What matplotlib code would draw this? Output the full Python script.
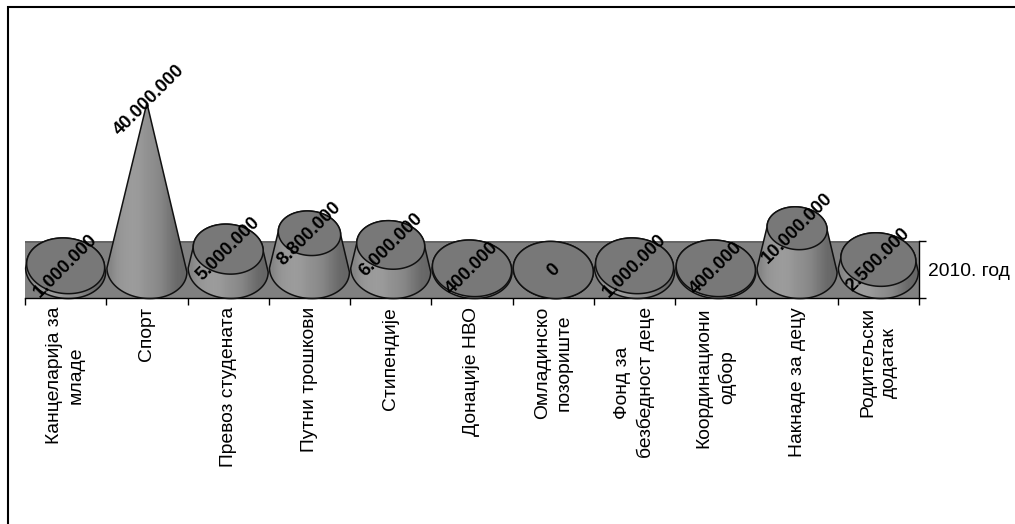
import matplotlib
matplotlib.use("Agg")
import matplotlib.pyplot as plt
import numpy as np
from matplotlib.lines import Line2D
from matplotlib.patches import Polygon, Rectangle

plt.rcParams['font.family'] = ['Liberation Sans', 'DejaVu Sans']

categories = ["Канцеларија за\nмладе", "Спорт", "Превоз студената", "Путни трошкови",
              "Стипендије", "Донације НВО", "Омладинско\nпозориште",
              "Фонд за\nбезбедност деце", "Координациони\nодбор", "Накнаде за децу",
              "Родитељски\nдодатак"]
values = [1000000, 40000000, 5000000, 8800000, 6000000, 400000, 0, 1000000, 400000,
          10000000, 2500000]
value_labels = ["1.000.000", "40.000.000", "5.000.000", "8.800.000", "6.000.000", "400.000",
                "0", "1.000.000", "400.000", "10.000.000", "2.500.000"]
series_name = "2010. год"
VMAX = 40000000

W, H = 1015, 524
fig = plt.figure(figsize=(W/100, H/100), dpi=100, facecolor='white')
L, R, T, B = 25, 919, 241, 298
ax = fig.add_axes([L/W, 1-B/H, (R-L)/W, (B-T)/H])
PX = VMAX/167.0           # value units per pixel
Y0, Y1 = -28*PX, 29*PX
ax.set_facecolor('#808080')

grad = np.array([[0.52, 0.58, 0.60, 0.61, 0.60, 0.57, 0.55, 0.52, 0.47, 0.42, 0.40]])
RX, RY, SKEW = 0.492, 28.5*PX, 0.07


def ring(cx, cy, f, t):
    return np.c_[cx + RX*f*np.cos(t), cy + RY*f*(np.sin(t) - SKEW*np.cos(t))]


for i, v in enumerate(values):
    cx = i + 0.5
    f = 1 - v/VMAX
    base = ring(cx, 0, 1, np.linspace(np.pi, 2*np.pi, 60))
    top = ring(cx, v, f, np.linspace(0, np.pi, 60))
    pts = np.r_[base, top]
    z = 2 + i*0.01
    poly = Polygon(pts, closed=True, fc='none', ec='none', zorder=z, clip_on=False)
    ax.add_patch(poly)
    im = ax.imshow(grad, extent=(cx-RX, cx+RX, -RY, v+RY), aspect='auto', cmap='gray',
                   vmin=0, vmax=1, interpolation='bilinear', zorder=z)
    im.set_clip_box(fig.bbox)
    im.set_clip_path(poly)
    ax.add_patch(Polygon(pts, closed=True, fc='none', ec='#111111', lw=1.1,
                         zorder=z+0.5, clip_on=False))
    if f > 0:
        ax.add_patch(Polygon(ring(cx, v, f, np.linspace(0, 2*np.pi, 120)), closed=True,
                             fc='#787878', ec='#111111', lw=1.1, zorder=z+0.6, clip_on=False))
    dx = 0.03 if v == VMAX else 0.0
    dy = 3*PX if v == VMAX else 0.0
    ax.text(cx + dx, v + dy, value_labels[i], rotation=45, ha='center', va='center',
            rotation_mode='anchor', fontsize=13.3, fontweight='bold', color='black', zorder=5)

ax.set_xlim(0, len(values))
ax.set_ylim(Y0, Y1)
ax.add_patch(Rectangle((0, Y1-2*PX), len(values), 2*PX, fc='#666666', ec='none', zorder=1))

for s in ['top', 'left']:
    ax.spines[s].set_visible(False)
for s in ['bottom', 'right']:
    ax.spines[s].set_color('black')
    ax.spines[s].set_linewidth(1)

ax.set_xticks(np.arange(len(values)+1), minor=True)
ax.set_xticks(np.arange(len(values))+0.5)
ax.set_xticklabels(categories, rotation=90, fontsize=13.9, linespacing=1.38, ha='center', va='top')
ax.tick_params(axis='x', which='minor', length=5, width=1, color='black')
ax.tick_params(axis='x', which='major', length=0, pad=6.5)

ax.yaxis.tick_right()
ax.set_yticks([0])
ax.set_yticklabels([series_name], fontsize=13.9)
ax.set_yticks([Y0, Y1], minor=True)
ax.tick_params(axis='y', which='minor', length=5, width=1, color='black')
ax.tick_params(axis='y', which='major', length=0, pad=6.5)

fig.add_artist(Line2D([7.5/W, 7.5/W, 1], [0, 1-6.5/H, 1-6.5/H], color='black', lw=1.5,
                      transform=fig.transFigure, solid_joinstyle='miter'))
fig.savefig('out.png', dpi=100, facecolor='white')
